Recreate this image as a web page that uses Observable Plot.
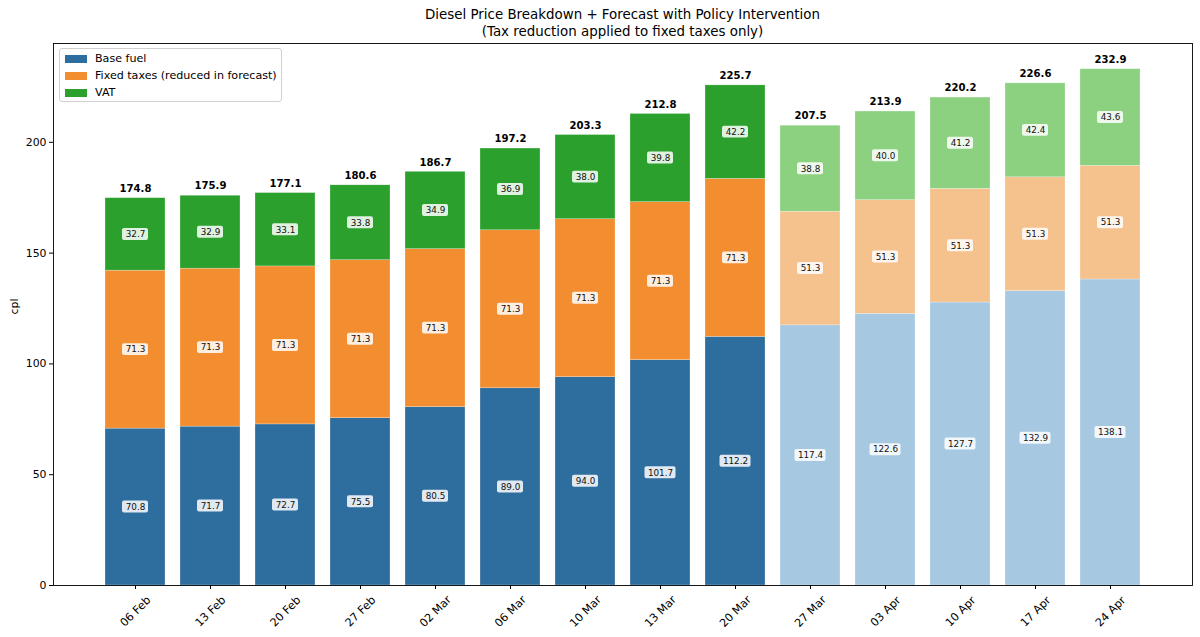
<!DOCTYPE html>
<html>
<head>
<meta charset="utf-8">
<script src="https://cdn.jsdelivr.net/npm/d3@7"></script>
<script src="https://cdn.jsdelivr.net/npm/@observablehq/plot@0.6"></script>
<style>
  body { margin: 0; background: #fff; font-family: "DejaVu Sans", sans-serif; }
  #wrap { position: relative; width: 1200px; height: 637px; }
  #title { margin-left: 53px; width: 1139px; height: 40px; box-sizing: border-box; padding-top: 7px;
           text-align: center; font-size: 13.4px; line-height: 16.5px; color: #000; }
  #legend { position: absolute; left: 59px; top: 48px; width: 223px; height: 54px; box-sizing: border-box;
            border: 1px solid #d0d0d0; border-radius: 3px; background: rgba(255,255,255,0.85);
            font-size: 11.1px; padding-top: 1px; }
  .item { height: 17px; display: flex; align-items: center; }
  .sw { width: 22px; height: 8px; margin-left: 5px; margin-right: 8px; }
</style>
</head>
<body>
<div id="wrap">
  <div id="title">Diesel Price Breakdown + Forecast with Policy Intervention<br>(Tax reduction applied to fixed taxes only)</div>
  <div id="chart"></div>
  <div id="legend"></div>
</div>
<script>
const dates = ["06 Feb","13 Feb","20 Feb","27 Feb","02 Mar","06 Mar","10 Mar","13 Mar","20 Mar","27 Mar","03 Apr","10 Apr","17 Apr","24 Apr"];
const baseFuel = [70.8, 71.7, 72.7, 75.5, 80.5, 89.0, 94.0, 101.7, 112.2, 117.4, 122.6, 127.7, 132.9, 138.1];
const fixedTaxes = [71.3, 71.3, 71.3, 71.3, 71.3, 71.3, 71.3, 71.3, 71.3, 51.3, 51.3, 51.3, 51.3, 51.3];
const vat = [32.7, 32.9, 33.1, 33.8, 34.9, 36.9, 38.0, 39.8, 42.2, 38.8, 40.0, 41.2, 42.4, 43.6];
const totals = [174.8, 175.9, 177.1, 180.6, 186.7, 197.2, 203.3, 212.8, 225.7, 207.5, 213.9, 220.2, 226.6, 232.9];
const isForecast = [false,false,false,false,false,false,false,false,false,true,true,true,true,true];
const seriesNames = ["Base fuel", "Fixed taxes (reduced in forecast)", "VAT"];
const actualColors = ["#2e6e9e", "#f28e2f", "#2ca02c"];
const forecastColors = ["#a6c8e0", "#f5c18c", "#8bd17f"];

const seriesArrays = [baseFuel, fixedTaxes, vat];
const rows = [];
dates.forEach((d, i) => {
  let lo = 0;
  seriesArrays.forEach((arr, s) => {
    const v = arr[i];
    rows.push({date: d, s, value: v, forecast: isForecast[i], mid: lo + v / 2, label: v.toFixed(1)});
    lo += v;
  });
});
const rows4 = rows.filter(r => r.label.length <= 4);
const rows5 = rows.filter(r => r.label.length > 4);
const half = 2.7;

const boxOpts = (extra) => ({
  x: "date", y1: d => d.mid - half, y2: d => d.mid + half,
  fill: "white", fillOpacity: 0.85, rx: 2, ...extra
});

const chart = Plot.plot({
  width: 1200, height: 597,
  marginTop: 3, marginBottom: 52, marginLeft: 53, marginRight: 8,
  style: {fontFamily: "DejaVu Sans, sans-serif", background: "white", overflow: "visible"},
  x: {type: "band", domain: dates, paddingInner: 0.2, paddingOuter: 0.69, align: 0.5},
  y: {domain: [0, 244.6]},
  color: {type: "identity"},
  marks: [
    Plot.barY(rows, {x: "date", y: "value", z: "s", order: null,
      fill: d => (d.forecast ? forecastColors : actualColors)[d.s],
      stroke: "white", strokeWidth: 0.5, strokeOpacity: 0.5}),
    Plot.barY(rows4, boxOpts({insetLeft: 17, insetRight: 17})),
    Plot.barY(rows5, boxOpts({insetLeft: 14.5, insetRight: 14.5})),
    Plot.text(rows, {x: "date", y: "mid", text: "label", fontSize: 8.8, fill: "#111"}),
    Plot.text(totals, {x: (d, i) => dates[i], y: d => d, text: d => d.toFixed(1),
      dy: -9.5, fontSize: 10.1, fontWeight: "bold", fill: "#000"}),
    Plot.axisY({ticks: [0, 50, 100, 150, 200], tickSize: 4, tickPadding: 3, fontSize: 10.9, label: null}),
    Plot.axisX({tickSize: 4, tickFormat: () => "", label: null}),
    Plot.text(dates, {x: d => d, frameAnchor: "bottom", dy: 26, rotate: -45, textAnchor: "middle",
      lineAnchor: "middle", fontSize: 11.2, fill: "#000"}),
    Plot.text(["cpl"], {frameAnchor: "left", dx: -39, rotate: -90, fontSize: 10.9, fill: "#000"}),
    Plot.frame({stroke: "#000", strokeWidth: 0.9})
  ]
});
document.getElementById("chart").appendChild(chart);

const legend = document.getElementById("legend");
seriesNames.forEach((name, s) => {
  const item = document.createElement("div");
  item.className = "item";
  item.innerHTML = `<span class="sw" style="background:${actualColors[s]}"></span><span>${name}</span>`;
  legend.appendChild(item);
});
</script>
</body>
</html>
